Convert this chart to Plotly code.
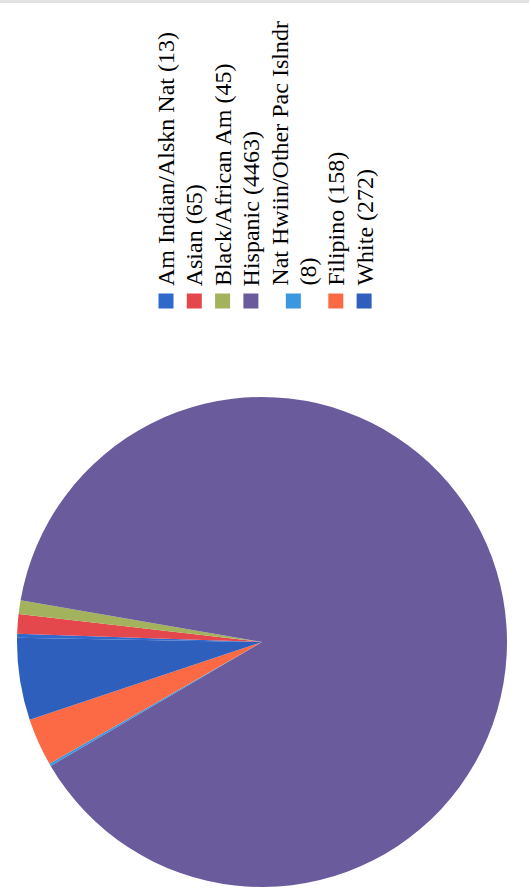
import plotly.graph_objects as go

# Enrollment by ethnicity
groups = [
    "Am Indian/Alskn Nat",
    "Asian",
    "Black/African Am",
    "Hispanic",
    "Nat Hwiin/Other Pac Islndr",
    "Filipino",
    "White",
]
counts = [13, 65, 45, 4463, 8, 158, 272]
colors = ["#2f69cc", "#e4474c", "#a3b25c", "#6a5b9c", "#3a97e0", "#fb6a45", "#2e5fbd"]

# legend label lines (long names wrap onto two lines)
legend_lines = [
    ["Am Indian/Alskn Nat (13)"],
    ["Asian (65)"],
    ["Black/African Am (45)"],
    ["Hispanic (4463)"],
    ["Nat Hwiin/Other Pac Islndr", "(8)"],
    ["Filipino (158)"],
    ["White (272)"],
]

W, H = 529, 892
cx, cy, r = 262, 642, 245

fig = go.Figure()
fig.add_trace(go.Pie(
    labels=groups,
    values=counts,
    marker=dict(colors=colors, line=dict(width=0)),
    sort=False,
    direction="clockwise",
    rotation=-89,
    textinfo="none",
    hoverinfo="label+value",
    showlegend=False,
    domain=dict(x=[(cx - r) / W, (cx + r) / W],
                y=[(H - cy - r) / H, (H - cy + r) / H]),
))

# rotated legend: text runs bottom-to-top, entries step left-to-right
line_step = 28.3
x0 = 166
text_bottom = 288
sq_y = 301
sq = 15
annotations = []
shapes = []
col = 0
for i, lines in enumerate(legend_lines):
    xs = [x0 + (col + k) * line_step for k in range(len(lines))]
    for k, ln in enumerate(lines):
        annotations.append(dict(
            xref="paper", yref="paper",
            x=xs[k] / W, y=(H - text_bottom) / H,
            text=ln, showarrow=False, textangle=-90,
            xanchor="center", yanchor="bottom",
            font=dict(family="Liberation Serif", size=24, color="#000000"),
        ))
    sx = sum(xs) / len(xs)
    shapes.append(dict(
        type="rect", xref="paper", yref="paper",
        x0=(sx - sq / 2) / W, x1=(sx + sq / 2) / W,
        y0=(H - sq_y - sq / 2) / H, y1=(H - sq_y + sq / 2) / H,
        fillcolor=colors[i], line=dict(width=0),
    ))
    col += len(lines)

# faint rule across the top edge
shapes.append(dict(type="line", xref="paper", yref="paper",
                   x0=0, x1=1, y0=1 - 1.5 / H, y1=1 - 1.5 / H,
                   line=dict(color="#e2e2e2", width=3)))

fig.update_layout(
    width=W, height=H,
    margin=dict(l=0, r=0, t=0, b=0),
    paper_bgcolor="white",
    plot_bgcolor="white",
    annotations=annotations,
    shapes=shapes,
)

fig.write_html("out.html")
